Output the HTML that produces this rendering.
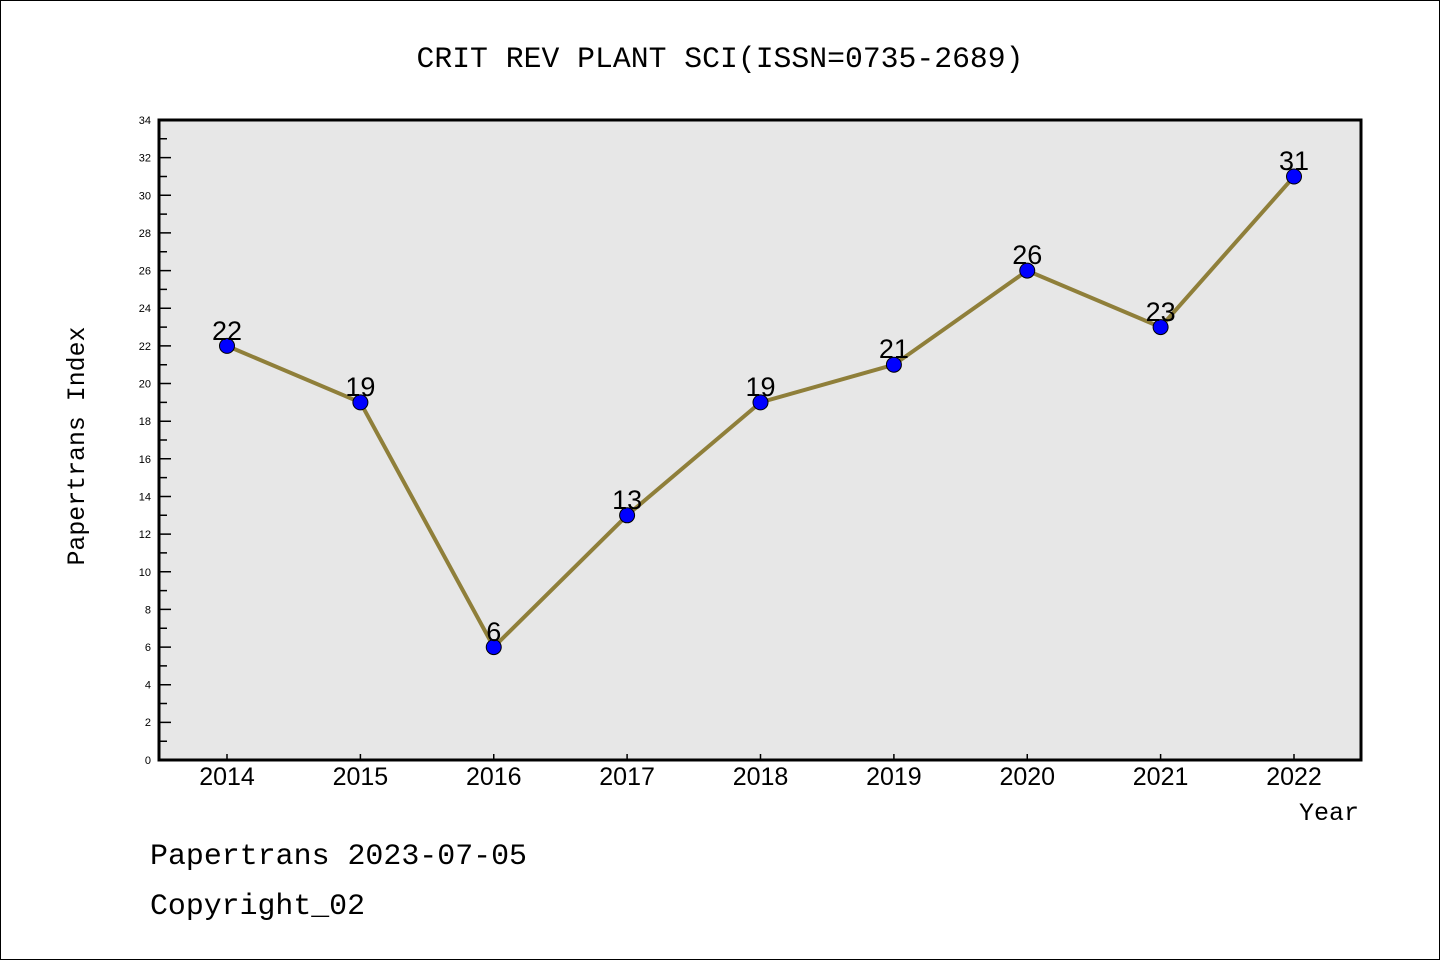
<!DOCTYPE html>
<html><head><meta charset="utf-8"><style>html,body{margin:0;padding:0;background:#fff}svg{display:block}</style></head>
<body>
<svg width="1440" height="960" viewBox="0 0 1440 960" xmlns="http://www.w3.org/2000/svg">
<rect x="0.5" y="0.5" width="1439" height="959" fill="#fff" stroke="#000" stroke-width="1"/>
<text x="720" y="67" font-family="Liberation Mono, monospace" font-size="30" text-anchor="middle" textLength="607" lengthAdjust="spacingAndGlyphs">CRIT REV PLANT SCI(ISSN=0735-2689)</text>
<rect x="159" y="120" width="1202" height="640" fill="#e7e7e7"/>
<g stroke="#000" stroke-width="1.5" id="ticks">
<path d="M159 741.2h8M159 722.4h12M159 703.5h8M159 684.7h12M159 665.9h8M159 647.1h12M159 628.2h8M159 609.4h12M159 590.6h8M159 571.8h12M159 552.9h8M159 534.1h12M159 515.3h8M159 496.5h12M159 477.6h8M159 458.8h12M159 440h8M159 421.2h12M159 402.4h8M159 383.5h12M159 364.7h8M159 345.9h12M159 327.1h8M159 308.2h12M159 289.4h8M159 270.6h12M159 251.8h8M159 232.9h12M159 214.1h8M159 195.3h12M159 176.5h8M159 157.6h12M159 138.8h8"/>
<path d="M227 760v-6M360.4 760v-6M493.75 760v-6M627.1 760v-6M760.5 760v-6M893.9 760v-6M1027.25 760v-6M1160.6 760v-6M1294 760v-6"/>
</g>
<rect x="159" y="120" width="1202" height="640" fill="none" stroke="#000" stroke-width="3"/>
<g font-family="Liberation Sans, sans-serif" font-size="11" text-anchor="end">
<text x="151" y="764">0</text><text x="151" y="726">2</text><text x="151" y="688.7">4</text><text x="151" y="651">6</text><text x="151" y="613.4">8</text><text x="151" y="575.8">10</text><text x="151" y="538">12</text><text x="151" y="500.5">14</text><text x="151" y="462.8">16</text><text x="151" y="425.2">18</text><text x="151" y="387.5">20</text><text x="151" y="350">22</text><text x="151" y="312.2">24</text><text x="151" y="274.6">26</text><text x="151" y="237">28</text><text x="151" y="199.3">30</text><text x="151" y="161.6">32</text><text x="151" y="124">34</text>
</g>
<g font-family="Liberation Sans, sans-serif" font-size="25" text-anchor="middle">
<text x="227" y="785">2014</text><text x="360.4" y="785">2015</text><text x="493.75" y="785">2016</text><text x="627.1" y="785">2017</text><text x="760.5" y="785">2018</text><text x="893.9" y="785">2019</text><text x="1027.25" y="785">2020</text><text x="1160.6" y="785">2021</text><text x="1294" y="785">2022</text>
</g>
<text x="1359" y="820" font-family="Liberation Mono, monospace" font-size="25" text-anchor="end">Year</text>
<text transform="translate(84,446) rotate(-90)" font-family="Liberation Mono, monospace" font-size="25" text-anchor="middle" textLength="239" lengthAdjust="spacingAndGlyphs">Papertrans Index</text>
<polyline points="227,345.9 360.4,402.4 493.75,647.1 627.1,515.3 760.5,402.4 893.9,364.7 1027.25,270.6 1160.6,327.1 1294,176.5" fill="none" stroke="#8f7f3a" stroke-width="4"/>
<g fill="#0000ff" stroke="#000" stroke-width="1">
<circle cx="227" cy="345.9" r="7.5"/><circle cx="360.4" cy="402.4" r="7.5"/><circle cx="493.75" cy="647.1" r="7.5"/><circle cx="627.1" cy="515.3" r="7.5"/><circle cx="760.5" cy="402.4" r="7.5"/><circle cx="893.9" cy="364.7" r="7.5"/><circle cx="1027.25" cy="270.6" r="7.5"/><circle cx="1160.6" cy="327.1" r="7.5"/><circle cx="1294" cy="176.5" r="7.5"/>
</g>
<g font-family="Liberation Sans, sans-serif" font-size="27" text-anchor="middle">
<text x="227" y="340">22</text><text x="360.4" y="396">19</text><text x="493.75" y="641">6</text><text x="627.1" y="509">13</text><text x="760.5" y="396">19</text><text x="893.9" y="358">21</text><text x="1027.25" y="264">26</text><text x="1160.6" y="321">23</text><text x="1294" y="170">31</text>
</g>
<text x="150" y="864" font-family="Liberation Mono, monospace" font-size="30" textLength="377" lengthAdjust="spacingAndGlyphs">Papertrans 2023-07-05</text>
<text x="150" y="914" font-family="Liberation Mono, monospace" font-size="30" textLength="215" lengthAdjust="spacingAndGlyphs">Copyright_02</text>
</svg>
</body></html>
